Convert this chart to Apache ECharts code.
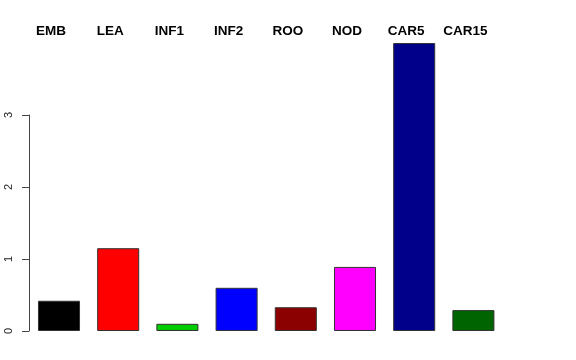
<!DOCTYPE html>
<html><head><meta charset="utf-8">
<script src="https://cdn.jsdelivr.net/npm/echarts@6/dist/echarts.min.js"></script>
<style>html,body{margin:0;padding:0;background:#fff}#c{width:576px;height:360px}</style>
</head><body><div id="c"></div>
<script>
var categories = ["EMB","LEA","INF1","INF2","ROO","NOD","CAR5","CAR15"];
var values = [0.42, 1.15, 0.10, 0.60, 0.33, 0.89, 4.00, 0.29];
var colors = ["#000000","#FF0000","#00CD00","#0000FF","#8B0000","#FF00FF","#00008B","#006400"];
var yTicks = [0,1,2,3];

var chart = echarts.init(document.getElementById('c'), null, {renderer:'canvas'});
chart.setOption({
  animation:false,
  backgroundColor:'#fff',
  grid:[
    {left:29.4, right:73, top:43, bottom:29},
    {left:21.4, right:81, top:43, bottom:29},
    {left:29, right:540, top:115, bottom:29}
  ],
  xAxis:[
    {gridIndex:0, type:'category', data:categories, show:false},
    {gridIndex:1, type:'category', data:categories, position:'top',
     axisLine:{show:false}, axisTick:{show:false},
     axisLabel:{show:true, interval:0, margin:5, color:'#000', fontWeight:'bold', fontSize:13.5, fontFamily:'Liberation Sans, Arial, sans-serif'}},
    {gridIndex:2, type:'value', show:false}
  ],
  yAxis:[
    {gridIndex:0, type:'value', min:0, max:4, show:false},
    {gridIndex:1, type:'value', show:false},
    {gridIndex:2, type:'value', min:yTicks[0], max:yTicks[yTicks.length-1], interval:1,
     axisLine:{show:true, lineStyle:{color:'#444', width:1}},
     axisTick:{show:true, length:7, lineStyle:{color:'#444'}},
     splitLine:{show:false},
     axisLabel:{rotate:90, margin:15, color:'#222', fontSize:11, fontFamily:'Liberation Sans, Arial, sans-serif'}}
  ],
  series:[{
    type:'bar', xAxisIndex:0, yAxisIndex:0,
    barCategoryGap:'29%',
    data: values.map(function(v,i){return {value:v, itemStyle:{color:colors[i]}};}),
    itemStyle:{borderColor:'#333', borderWidth:1}
  }]
});
</script></body></html>
